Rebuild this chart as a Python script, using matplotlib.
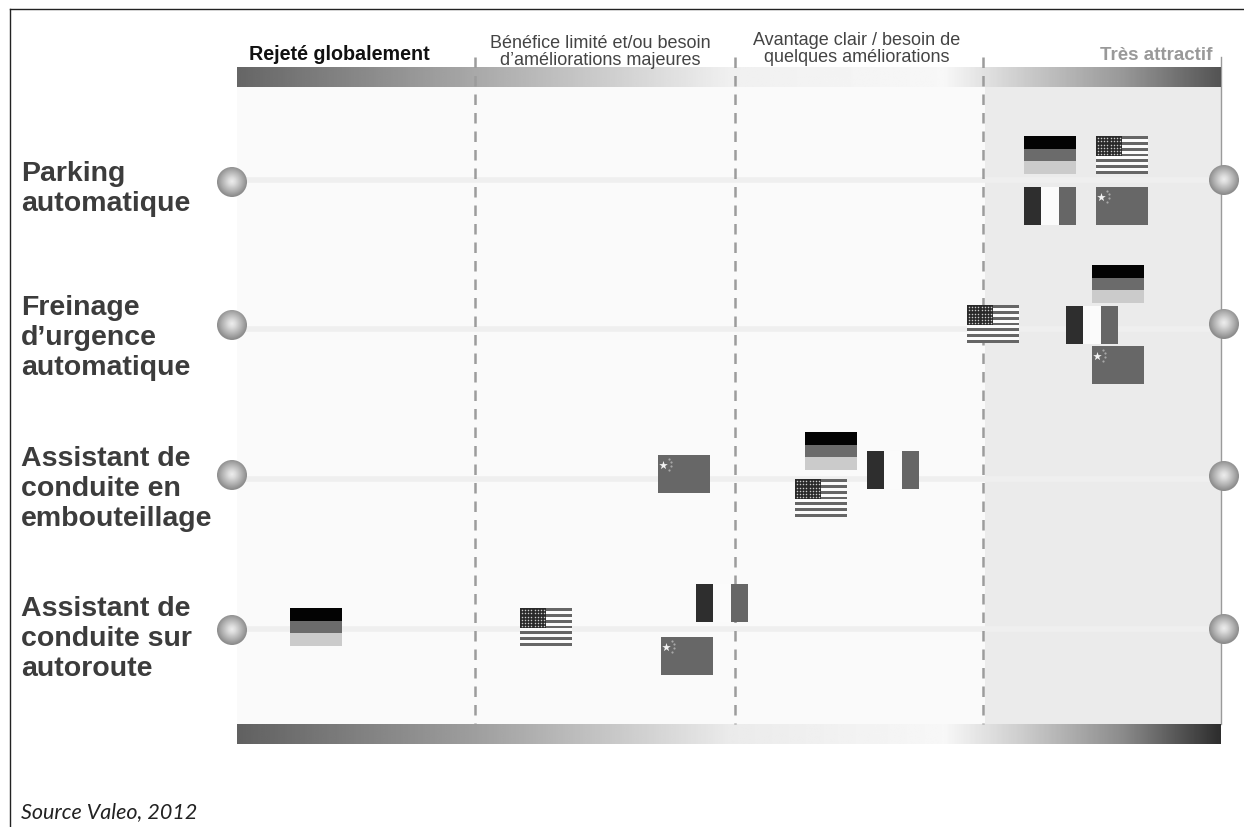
import numpy as np
import matplotlib
matplotlib.use('Agg')
import matplotlib.pyplot as plt
from matplotlib.patches import Circle, Rectangle

# lignes du graphique (libellé, position verticale)
row_labels = ['Parking\nautomatique',
              'Freinage\nd’urgence\nautomatique',
              'Assistant de\nconduite en\nembouteillage',
              'Assistant de\nconduite sur\nautoroute']
row_y = [181, 330, 480, 630]
row_label_y = [189, 338, 489, 639]
sphere_left_y = [183, 326, 476, 631]
sphere_right_y = [181, 325, 477, 630]

# centres des drapeaux par pays, une valeur par ligne
de_x = [1050, 1118, 831, 316]
de_y = [156, 285, 452, 628]
us_x = [1122, 993, 821, 546]
us_y = [156, 325, 499, 628]
fr_x = [1050, 1092, 893, 722]
fr_y = [207, 326, 471, 604]
cn_x = [1122, 1118, 684, 687]
cn_y = [207, 366, 475, 657]

# séparations entre les zones
zone_x = [475, 735, 983]

W, H = 1244, 828
FLAG_W, FLAG_H = 52, 38

plt.rcParams['font.family'] = ['Liberation Sans', 'DejaVu Sans']

fig = plt.figure(figsize=(W / 100, H / 100), dpi=100)
ax = fig.add_axes([0, 0, 1, 1])
ax.set_xlim(0, W)
ax.set_ylim(H, 0)
ax.axis('off')


def gradient_bar(x0, x1, y0, y1, stops, vals):
    g = np.interp(np.linspace(0, 1, 400), stops, vals)[None, :]
    ax.imshow(g, extent=(x0, x1, y1, y0), cmap='gray', vmin=0, vmax=1,
              aspect='auto', zorder=3, interpolation='bilinear')


def draw_de(cx, cy):
    x = cx - FLAG_W / 2
    y = cy - FLAG_H / 2
    for i, c in enumerate(['#030303', '#6b6b6b', '#cbcbcb']):
        ax.add_patch(Rectangle((x, y + i * FLAG_H / 3), FLAG_W, FLAG_H / 3, fc=c, ec='none', zorder=5))


def draw_fr(cx, cy):
    x = cx - FLAG_W / 2
    y = cy - FLAG_H / 2
    for i, c in enumerate(['#2e2e2e', '#fbfbfb', '#666666']):
        ax.add_patch(Rectangle((x + i * FLAG_W / 3, y), FLAG_W / 3, FLAG_H, fc=c, ec='none', zorder=5))


def draw_us(cx, cy):
    x = cx - FLAG_W / 2
    y = cy - FLAG_H / 2
    h = FLAG_H / 13
    ax.add_patch(Rectangle((x, y), FLAG_W, FLAG_H, fc='#fbfbfb', ec='none', zorder=5))
    for i in range(0, 13, 2):
        ax.add_patch(Rectangle((x, y + i * h), FLAG_W, h, fc='#666666', ec='none', zorder=5))
    ax.add_patch(Rectangle((x, y), FLAG_W / 2, 7 * h, fc='#2a2a2a', ec='none', zorder=6))
    sx, sy = np.meshgrid(np.linspace(x + 2, x + FLAG_W / 2 - 2, 8), np.linspace(y + 2, y + 7 * h - 2, 6))
    ax.scatter(sx.ravel(), sy.ravel(), s=1.2, c='#cccccc', linewidths=0, zorder=7)


def draw_cn(cx, cy):
    x = cx - FLAG_W / 2
    y = cy - FLAG_H / 2
    ax.add_patch(Rectangle((x, y), FLAG_W, FLAG_H, fc='#676767', ec='none', zorder=5))
    ax.scatter([x + 5], [y + 9.5], s=42, marker='*', c='#f2f2f2', linewidths=0, zorder=6)
    ax.scatter([x + 11, x + 13, x + 13, x + 11], [y + 3.5, y + 7, y + 11, y + 15],
               s=2.5, c='#a8a8a8', linewidths=0, zorder=6)


def draw_sphere(cx, cy, r=15):
    yy, xx = np.mgrid[-1:1:80j, -1:1:80j]
    d = np.sqrt(xx ** 2 + (yy + 0.05) ** 2)
    im = ax.imshow(np.interp(d, [0, 0.25, 0.7, 1.0], [0.93, 0.86, 0.68, 0.55]),
                   extent=(cx - r, cx + r, cy + r, cy - r), cmap='gray', vmin=0, vmax=1,
                   aspect='auto', zorder=6)
    im.set_clip_path(Circle((cx, cy), r, transform=ax.transData))


# cadre de la figure
ax.plot([10, 10], [H, 10], color='#222222', lw=1, zorder=1)
ax.plot([10, W], [10, 10], color='#222222', lw=1, zorder=1)

# fond du panneau et zone de droite
ax.add_patch(Rectangle((237, 88), 984, 637, fc='#fafafa', ec='none', zorder=1))
ax.add_patch(Rectangle((985, 88), 236, 637, fc='#ebebeb', ec='none', zorder=1))
ax.plot([1221, 1221], [58, 725], color='#9a9a9a', lw=1, zorder=2)

# barres dégradées haut et bas
gradient_bar(237, 1221, 68, 88, [0, 0.24, 0.5, 0.72, 0.8, 0.9, 1],
             [0.40, 0.66, 0.94, 0.97, 0.80, 0.60, 0.33])
gradient_bar(237, 1221, 725, 745, [0, 0.24, 0.5, 0.72, 0.8, 0.9, 1],
             [0.38, 0.62, 0.92, 0.97, 0.80, 0.55, 0.18])

# séparations pointillées
for x in zone_x:
    ax.plot([x, x], [58, 725], color='#9c9c9c', lw=1.8, dashes=(4.2, 3.2), zorder=4)

# lignes horizontales et boules aux extrémités
for i, y in enumerate(row_y):
    ax.plot([240, 1215], [y, y], color='#efefef', lw=4, zorder=2, solid_capstyle='butt')
    draw_sphere(232, sphere_left_y[i])
    draw_sphere(1224, sphere_right_y[i])
    ax.text(21, row_label_y[i], row_labels[i], fontsize=20.5, fontweight='bold', color='#3c3c3c',
            va='center', ha='left', linespacing=1.18, zorder=8)

# drapeaux
for i in range(len(row_y)):
    draw_de(de_x[i], de_y[i])
    draw_us(us_x[i], us_y[i])
    draw_fr(fr_x[i], fr_y[i])
    draw_cn(cn_x[i], cn_y[i])

# titres des zones
ax.text(249, 55, 'Rejeté globalement', fontsize=14.2, fontweight='bold', color='#111111', va='center', zorder=8)
ax.text(600, 52, 'Bénéfice limité et/ou besoin\nd’améliorations majeures', fontsize=13, color='#444444',
        ha='center', va='center', linespacing=1.0, zorder=8)
ax.text(857, 49, 'Avantage clair / besoin de\nquelques améliorations', fontsize=13, color='#444444',
        ha='center', va='center', linespacing=1.0, zorder=8)
ax.text(1212, 55, 'Très attractif', fontsize=13.5, fontweight='bold', color='#999999', ha='right', va='center', zorder=8)

ax.text(21, 812, 'Source Valeo, 2012', fontsize=15.5, fontstyle='italic', family=['Lato', 'DejaVu Sans'],
        color='#222222', va='center', zorder=8)

ax.set_xlim(0, W)
ax.set_ylim(H, 0)
fig.savefig('out.png', dpi=100, facecolor='white')
